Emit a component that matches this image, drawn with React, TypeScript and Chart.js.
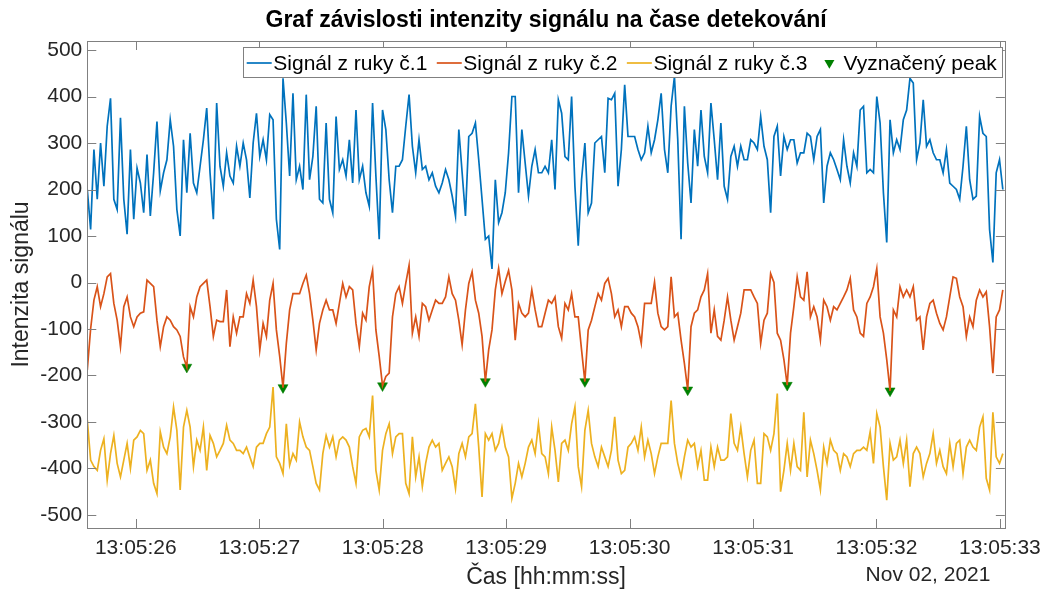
import React, { useEffect, useRef } from 'react';
import { Chart, registerables } from 'chart.js';

Chart.register(...registerables);

// ---------- data ----------
const titleText = 'Graf závislosti intenzity signálu na čase detekování';
const xTitle = 'Čas [hh:mm:ss]';
const yTitle = 'Intenzita signálu';
const dateLabel = 'Nov 02, 2021';
const seriesLabels = ['Signál z ruky č.1', 'Signál z ruky č.2', 'Signál z ruky č.3', 'Vyznačený peak'];

const xTickSeconds = [26, 27, 28, 29, 30, 31, 32, 33];
const xTickLabels = ['13:05:26', '13:05:27', '13:05:28', '13:05:29', '13:05:30', '13:05:31', '13:05:32', '13:05:33'];
const yTickValues = [-500, -400, -300, -200, -100, 0, 100, 200, 300, 400, 500];

// sampling grid (seconds after 13:05:00)
const startSec = 25.607;
const stepSec = 0.026872;

const blueA = [
  200, 114, 286, 179, 300, 207, 336, 396, 179, 157,
  354, 179, 104, 286, 136, 246, 214, 150, 275, 143,
  236, 346, 197, 236, 264, 350, 293, 157, 100, 307,
  193, 321, 214, 193, 250, 307, 375, 236, 136, 386,
  250, 207, 279, 229, 214, 293, 250, 300, 264, 182,
  300, 364, 271, 307, 264, 361, 350, 136, 71, 439,
  343, 229, 407, 221, 250, 200, 404, 221, 271, 379,
  179, 171, 343, 179, 150, 357, 243, 264, 229, 307,
  214, 371, 221, 250, 193, 164, 386, 229, 93, 371,
  329, 221, 150, 250,
];
const blueB = [
  250, 264, 336, 404, 293, 236, 307, 243, 250, 221,
  236, 207, 193, 214, 243, 221, 186, 143, 329, 236,
  143, 314, 321, 343, 264, 179, 93, 100, 29, 221,
  129, 150, 193, 279, 400, 400, 193, 329, 257, 186,
  250, 286, 236, 236, 250, 236, 307, 200, 393, 364,
  271, 264, 400, 207, 79, 221, 300, 150, 171, 300,
  307, 314, 236, 396, 393, 407, 207, 286, 425, 314,
  314, 314, 286, 264, 279, 336, 279, 307, 350, 407,
  286, 236, 379, 443, 307, 93, 379, 257, 171, 329,
  250, 371, 271,
];
const blueC = [
  236, 386, 307, 221, 343, 207, 179, 271, 293, 250,
  293, 264, 264, 307, 300, 286, 357, 293, 264, 150,
  314, 336, 229, 314, 286, 307, 307, 257, 279, 279,
  321, 314, 264, 314, 329, 171, 250, 279, 264, 243,
  221, 307, 250, 214, 279, 250, 371, 379, 236, 243,
  236, 400, 343, 193, 86, 350, 279, 307, 286, 350,
  371, 439, 429, 264, 300, 393, 293, 307, 279, 264,
  264, 236, 286, 214, 207, 200, 179, 250, 336, 221,
  179, 186, 357, 321, 314, 114, 43, 236, 264, 200,
];

const orangeA = [
  -188, -100, -38, -9, -52, -24, 12, 19, -45, -81,
  -138, -52, -31, -74, -95, -74, -66, -63, 5, -2,
  -9, -81, -138, -95, -74, -81, -95, -102, -116, -160,
  -182, -52, -74, -31, -9, -2, 5, -52, -116, -81,
  -84, -84, -16, -138, -74, -109, -74, -74, -24, -45,
  5, -52, -145, -88, -116, -38, -2, -102, -159, -226,
  -131, -59, -24, -24, -24, -2, 16, -24, -81, -145,
  -88, -59, -38, -59, -59, -88, -45, -2, -31, -9,
  -16, -88, -138, -66, -81, -9, 26, -102, -159, -222,
  -202, -195, -74, -24,
];
const orangeB = [
  -9, -45, -2, 37, -109, -74, -116, -45, -52, -81,
  -59, -38, -45, -45, -31, 12, -24, -38, -81, -134,
  -59, -2, 23, -38, -66, -116, -213, -145, -102, -16,
  30, -24, 2, 26, -16, -124, -45, -66, -74, -66,
  -16, -59, -95, -95, -66, -38, -45, -31, -95, -120,
  -45, -59, -24, -74, -74, -145, -213, -102, -81, -52,
  -24, -38, -2, 9, -24, -74, -59, -95, -52, -52,
  -66, -74, -95, -131, -45, -45, -45, 1, -66, -95,
  -102, -95, 12, -74, -66, -124, -174, -231, -95, -66,
  -59, -31, -16,
];
const orangeC = [
  19, -109, -59, -116, -124, -81, -31, -81, -124, -95,
  -66, -16, -16, -16, -31, -45, -131, -81, -66, 19,
  0, -109, -124, -166, -221, -109, -52, 12, -31, -38,
  23, -74, -52, -74, -124, -38, -52, -81, -52, -59,
  -45, -31, -16, 9, -59, -74, -109, -116, -45, -31,
  -9, 30, -74, -109, -166, -233, -59, -74, -9, -31,
  -16, -31, -9, -81, -74, -145, -74, -45, -38, -66,
  -88, -102, -74, -31, 12, 9, -31, -52, -116, -74,
  -95, -38, -16, -31, -20, -95, -195, -74, -59, -16,
];

const yellowA = [
  -296, -382, -396, -404, -361, -336, -425, -368, -329, -389,
  -418, -382, -346, -400, -339, -332, -318, -325, -404, -382,
  -432, -454, -321, -354, -368, -332, -268, -318, -446, -311,
  -275, -311, -396, -339, -361, -311, -404, -329, -346, -375,
  -361, -346, -307, -339, -346, -361, -361, -368, -354, -375,
  -396, -354, -346, -346, -325, -311, -225, -375, -389, -411,
  -304, -393, -368, -382, -300, -332, -354, -361, -396, -432,
  -446, -368, -329, -354, -332, -375, -339, -332, -339, -354,
  -396, -432, -332, -318, -314, -332, -243, -404, -446, -361,
  -325, -304, -368, -332,
];
const yellowB = [
  -325, -325, -432, -454, -332, -418, -375, -439, -389, -354,
  -339, -354, -346, -404, -389, -375, -396, -443, -368, -346,
  -375, -332, -325, -261, -354, -461, -325, -339, -325, -361,
  -346, -311, -354, -375, -464, -432, -389, -418, -389, -354,
  -339, -368, -304, -368, -375, -411, -311, -361, -429, -346,
  -339, -361, -304, -268, -396, -439, -318, -275, -346, -375,
  -396, -354, -375, -396, -361, -289, -382, -411, -404, -354,
  -346, -332, -361, -311, -375, -339, -368, -411, -375, -346,
  -346, -346, -254, -346, -389, -418, -375, -339, -354, -346,
  -396, -361, -425,
];
const yellowC = [
  -425, -354, -396, -354, -382, -382, -375, -282, -346, -361,
  -311, -368, -418, -361, -339, -432, -432, -325, -332, -361,
  -325, -239, -450, -404, -346, -404, -346, -396, -404, -279,
  -418, -339, -368, -404, -446, -354, -389, -339, -361, -368,
  -404, -368, -375, -396, -368, -361, -361, -354, -361, -321,
  -389, -282, -311, -396, -468, -346, -382, -375, -339, -389,
  -339, -439, -368, -354, -368, -418, -389, -368, -325, -389,
  -361, -396, -411, -346, -396, -346, -339, -411, -354, -339,
  -354, -361, -311, -289, -421, -446, -279, -375, -389, -368,
];

// indices (into signal 2) of the marked peaks
const peakIndices = [30, 59, 89, 120, 150, 181, 211, 242];

// ---------- layout / style ----------
const W = 1049;
const H = 590;
const AREA = { left: 87.3, top: 41, right: 1009.3, bottom: 528 };
const X_MIN = 25.607;
const X_MAX = 33.04;
const Y_MIN = -528;
const Y_MAX = 519.4;
const FONT = "'Liberation Sans', Arial, Helvetica, sans-serif";
const COLORS = ['#0072BD', '#D95319', '#EDB120', '#008000'];
const AXIS_COLOR = '#808080';
const TEXT_COLOR = '#262626';
const TICK_LEN = 9;

const drawTriangleDown = (ctx: CanvasRenderingContext2D, x: number, y: number, r: number, color: string) => {
  ctx.save();
  ctx.fillStyle = color;
  ctx.beginPath();
  ctx.moveTo(x, y + r);
  ctx.lineTo(x - r * Math.sin(Math.PI / 3), y - r / 2);
  ctx.lineTo(x + r * Math.sin(Math.PI / 3), y - r / 2);
  ctx.closePath();
  ctx.fill();
  ctx.restore();
};

const decor = {
  id: 'decor',
  beforeDraw(chart: any) {
    const ctx = chart.ctx as CanvasRenderingContext2D;
    ctx.save();
    ctx.fillStyle = '#ffffff';
    ctx.fillRect(0, 0, chart.width, chart.height);
    ctx.restore();
  },
  afterDatasetsDraw(chart: any) {
    const ctx = chart.ctx as CanvasRenderingContext2D;
    const a = chart.chartArea;
    const xs = chart.scales.x;
    const ys = chart.scales.y;
    ctx.save();
    // axes box
    ctx.strokeStyle = AXIS_COLOR;
    ctx.lineWidth = 1;
    ctx.strokeRect(Math.round(a.left) + 0.5, Math.round(a.top) + 0.5, Math.round(a.right - a.left), Math.round(a.bottom - a.top));
    // ticks (inside, on both sides)
    ctx.beginPath();
    xs.ticks.forEach((t: any) => {
      const px = Math.round(xs.getPixelForValue(t.value)) + 0.5;
      ctx.moveTo(px, a.bottom);
      ctx.lineTo(px, a.bottom - TICK_LEN);
      ctx.moveTo(px, a.top);
      ctx.lineTo(px, a.top + TICK_LEN);
    });
    ys.ticks.forEach((t: any) => {
      const py = Math.round(ys.getPixelForValue(t.value)) + 0.5;
      ctx.moveTo(a.left, py);
      ctx.lineTo(a.left + TICK_LEN, py);
      ctx.moveTo(a.right, py);
      ctx.lineTo(a.right - TICK_LEN, py);
    });
    ctx.stroke();

    // legend
    const lx0 = 243.5;
    const ly0 = 47.5;
    const lx1 = 1002.5;
    const ly1 = 77.5;
    ctx.fillStyle = '#ffffff';
    ctx.fillRect(lx0, ly0, lx1 - lx0, ly1 - ly0);
    ctx.strokeStyle = AXIS_COLOR;
    ctx.strokeRect(lx0, ly0, lx1 - lx0, ly1 - ly0);
    ctx.font = `21px ${FONT}`;
    ctx.textBaseline = 'middle';
    ctx.textAlign = 'left';
    const cy = 63;
    let x = 246.7;
    chart.data.datasets.forEach((ds: any, i: number) => {
      if (i < 3) {
        ctx.strokeStyle = ds.borderColor;
        ctx.lineWidth = 1.7;
        ctx.beginPath();
        ctx.moveTo(x, cy);
        ctx.lineTo(x + 25, cy);
        ctx.stroke();
      } else {
        drawTriangleDown(ctx, x + 12.5, cy, 5.8, ds.backgroundColor);
      }
      ctx.fillStyle = '#000000';
      ctx.fillText(ds.label, x + 26.6, cy + 1);
      x += 26.6 + ctx.measureText(ds.label).width + 9.4;
    });
    ctx.restore();
  },
  afterDraw(chart: any) {
    const ctx = chart.ctx as CanvasRenderingContext2D;
    const a = chart.chartArea;
    const cx = (a.left + a.right) / 2;
    ctx.save();
    ctx.fillStyle = '#000000';
    ctx.textAlign = 'center';
    ctx.textBaseline = 'middle';
    ctx.font = `bold 23px ${FONT}`;
    ctx.fillText(titleText, cx, 21);
    ctx.fillStyle = TEXT_COLOR;
    ctx.font = `23px ${FONT}`;
    ctx.fillText(xTitle, cx, 578);
    ctx.font = `21px ${FONT}`;
    ctx.fillText(dateLabel, 928, 575);
    ctx.font = `23px ${FONT}`;
    ctx.translate(22, (a.top + a.bottom) / 2);
    ctx.rotate(-Math.PI / 2);
    ctx.fillText(yTitle, 0, 0);
    ctx.restore();
  },
};

export default function App() {
  const ref = useRef<HTMLCanvasElement>(null);

  useEffect(() => {
    document.body.style.margin = '0';
    const canvas = ref.current;
    if (!canvas) return;

    const toPoints = (vals: number[]) => vals.map((v, i) => ({ x: startSec + i * stepSec, y: v }));
    const sig1 = [...blueA, ...blueB, ...blueC];
    const sig2 = [...orangeA, ...orangeB, ...orangeC];
    const sig3 = [...yellowA, ...yellowB, ...yellowC];
    const peaks = peakIndices.map((i) => ({ x: startSec + i * stepSec, y: sig2[i] }));

    const lineDs = (label: string, vals: number[], color: string) => ({
      label,
      data: toPoints(vals),
      borderColor: color,
      backgroundColor: color,
      borderWidth: 1.7,
      pointRadius: 0,
      tension: 0,
      fill: false,
    });

    const chart = new Chart(canvas, {
      type: 'line',
      data: {
        datasets: [
          lineDs(seriesLabels[0], sig1, COLORS[0]),
          lineDs(seriesLabels[1], sig2, COLORS[1]),
          lineDs(seriesLabels[2], sig3, COLORS[2]),
          {
            label: seriesLabels[3],
            data: peaks,
            showLine: false,
            borderColor: COLORS[3],
            backgroundColor: COLORS[3],
            pointStyle: 'triangle',
            rotation: 180,
            pointRadius: 5.8,
            borderWidth: 0.5,
          } as any,
        ],
      },
      options: {
        animation: false,
        responsive: false,
        devicePixelRatio: 1,
        layout: { padding: { top: AREA.top, right: W - AREA.right, left: 0, bottom: 0 } },
        plugins: {
          legend: { display: false },
          title: { display: false },
          tooltip: { enabled: false },
        },
        scales: {
          x: {
            type: 'linear',
            min: X_MIN,
            max: X_MAX,
            grid: { display: false, drawTicks: false },
            border: { display: false },
            afterBuildTicks: (s: any) => {
              s.ticks = xTickSeconds.map((v) => ({ value: v }));
            },
            afterFit: (s: any) => {
              s.height = H - AREA.bottom;
            },
            ticks: {
              autoSkip: false,
              maxRotation: 0,
              minRotation: 0,
              padding: 8,
              color: TEXT_COLOR,
              font: { family: FONT, size: 21 },
              callback: (v: any, i: number) => xTickLabels[i] ?? '',
            },
          },
          y: {
            type: 'linear',
            min: Y_MIN,
            max: Y_MAX,
            grid: { display: false, drawTicks: false },
            border: { display: false },
            afterBuildTicks: (s: any) => {
              s.ticks = yTickValues.map((v) => ({ value: v }));
            },
            afterFit: (s: any) => {
              s.width = AREA.left;
            },
            ticks: {
              autoSkip: false,
              padding: 5,
              color: TEXT_COLOR,
              font: { family: FONT, size: 21 },
              callback: (v: any) => String(v),
            },
          },
        },
      } as any,
      plugins: [decor],
    });

    return () => chart.destroy();
  }, []);

  return (
    <div style={{ width: W, height: H, position: 'relative' }}>
      <canvas ref={ref} width={W} height={H} style={{ display: 'block' }} />
    </div>
  );
}
